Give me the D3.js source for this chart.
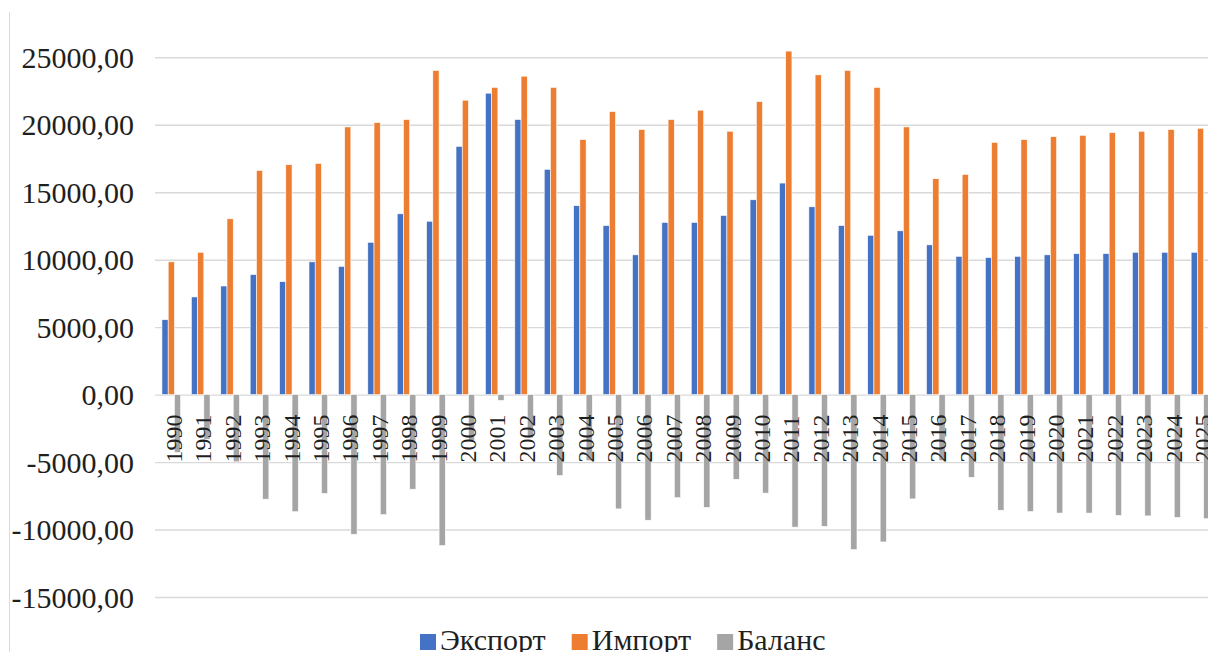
<!DOCTYPE html>
<html>
<head>
<meta charset="utf-8">
<script src="https://cdn.jsdelivr.net/npm/d3@7"></script>
<style>
  html, body { margin: 0; padding: 0; background: #ffffff; }
  svg { display: block; }
  svg text { font-family: "Liberation Serif", "Times New Roman", Tinos, "DejaVu Serif", serif !important; fill: #1f1f1f; }
</style>
</head>
<body>
<svg id="chart" width="1208" height="652"></svg>
<script>
// Foreign trade, 1990–2025
const years = ["1990","1991","1992","1993","1994","1995","1996","1997","1998","1999",
               "2000","2001","2002","2003","2004","2005","2006","2007","2008","2009",
               "2010","2011","2012","2013","2014","2015","2016","2017","2018","2019",
               "2020","2021","2022","2023","2024","2025"];

const exportValues = [5550, 7240, 8050, 8900, 8370, 9840, 9510, 11290, 13400, 12850,
                      18400, 22340, 20390, 16700, 14000, 12530, 10360, 12760, 12760, 13280,
                      14440, 15680, 13920, 12530, 11810, 12140, 11100, 10250, 10160, 10250,
                      10360, 10450, 10450, 10550, 10550, 10550];

const importValues = [9840, 10550, 13030, 16620, 17040, 17140, 19840, 20160, 20390, 24030,
                      21820, 22770, 23600, 22770, 18900, 20980, 19650, 20390, 21080, 19520,
                      21720, 25460, 23700, 24030, 22770, 19840, 16000, 16320, 18700, 18900,
                      19120, 19220, 19420, 19520, 19650, 19740];

const balanceValues = [-4290, -3310, -4980, -7750, -8680, -7330, -10350, -8900, -7010, -11190,
                       -3420, -430, -3210, -6000, -4900, -8470, -9310, -7640, -8360, -6280,
                       -7300, -9820, -9760, -11490, -10920, -7730, -4900, -6130, -8570, -8670,
                       -8780, -8780, -8950, -8990, -9100, -9200];

const seriesNames = ["Экспорт", "Импорт", "Баланс"];
const seriesColors = ["#4472C4", "#ED7D31", "#A5A5A5"];
const yTicks = [-15000, -10000, -5000, 0, 5000, 10000, 15000, 20000, 25000];

const series = [exportValues, importValues, balanceValues];
const rows = years.map((year, i) => ({ year, values: series.map(s => s[i]) }));

const serif = "'Liberation Serif', 'Times New Roman', Tinos, 'DejaVu Serif', serif";
const svg = d3.select("#chart");

const plot = { left: 156.6, right: 1215.2, top: 57.3, bottom: 597 };

const x = d3.scaleBand()
  .domain(years)
  .range([plot.left, plot.right])
  .paddingInner(0.364)
  .paddingOuter(0.182);

const xSeries = d3.scaleBand()
  .domain(d3.range(series.length))
  .range([0, x.bandwidth()]);

const y = d3.scaleLinear()
  .domain([-15000, 25000])
  .range([plot.bottom, plot.top]);

const locale = d3.formatLocale({ decimal: ",", thousands: "", grouping: [3], currency: ["", ""], minus: "-" });
const fmt = locale.format(".2f");

// outer frame edge on the left
svg.append("line")
  .attr("x1", 9.5).attr("x2", 9.5)
  .attr("y1", 12).attr("y2", 652)
  .attr("stroke", "#d9d9d9").attr("stroke-width", 1);

// horizontal gridlines and value labels
const yAxis = d3.axisLeft(y)
  .tickValues(yTicks)
  .tickFormat(fmt)
  .tickSize(-(1208 - plot.left + 2))
  .tickPadding(21);

const yG = svg.append("g")
  .attr("transform", `translate(${plot.left - 1.5},0)`)
  .attr("font-family", serif)
  .call(yAxis);
yG.attr("font-family", serif);
yG.select(".domain").remove();
yG.selectAll(".tick line")
  .attr("stroke", "#d9d9d9")
  .attr("stroke-width", 1.4);
yG.selectAll(".tick text")
  .attr("font-size", 30)
  .attr("dy", "0.34em")
  .attr("fill", "#1f1f1f");

// grouped bars
const groups = svg.append("g")
  .selectAll("g")
  .data(rows)
  .join("g")
  .attr("transform", d => `translate(${x(d.year)},0)`);

groups.selectAll("rect")
  .data(d => d.values.map((v, k) => ({ k, v })))
  .join("rect")
  .attr("x", d => xSeries(d.k))
  .attr("width", xSeries.bandwidth())
  .attr("y", d => y(Math.max(0, d.v)))
  .attr("height", d => Math.abs(y(d.v) - y(0)))
  .attr("fill", d => seriesColors[d.k])
  .attr("stroke", "#ffffff")
  .attr("stroke-width", 0.6);

// category labels, rotated, read bottom to top
const xAxis = d3.axisBottom(x).tickSize(0).tickPadding(0);
const xG = svg.append("g")
  .attr("transform", `translate(0,${y(0)})`)
  .call(xAxis);
xG.attr("font-family", serif);
xG.select(".domain").remove();
xG.selectAll(".tick text")
  .attr("font-size", 24)
  .attr("fill", "#1f1f1f")
  .attr("text-anchor", "start")
  .attr("dy", null)
  .attr("y", 0)
  .attr("transform", "translate(2.6,68) rotate(-90)")
  .attr("dominant-baseline", "central");

// legend
const legend = svg.append("g").attr("transform", "translate(420,0)").attr("font-family", serif);
let cursor = 0;
seriesNames.forEach((name, k) => {
  const item = legend.append("g").attr("transform", `translate(${cursor},0)`);
  item.append("rect")
    .attr("x", 0).attr("y", 634)
    .attr("width", 16).attr("height", 16)
    .attr("fill", seriesColors[k]);
  const t = item.append("text")
    .attr("x", 20).attr("y", 650)
    .attr("font-size", 30)
    .text(name);
  cursor += 20 + t.node().getComputedTextLength() + 26;
});
</script>
</body>
</html>
